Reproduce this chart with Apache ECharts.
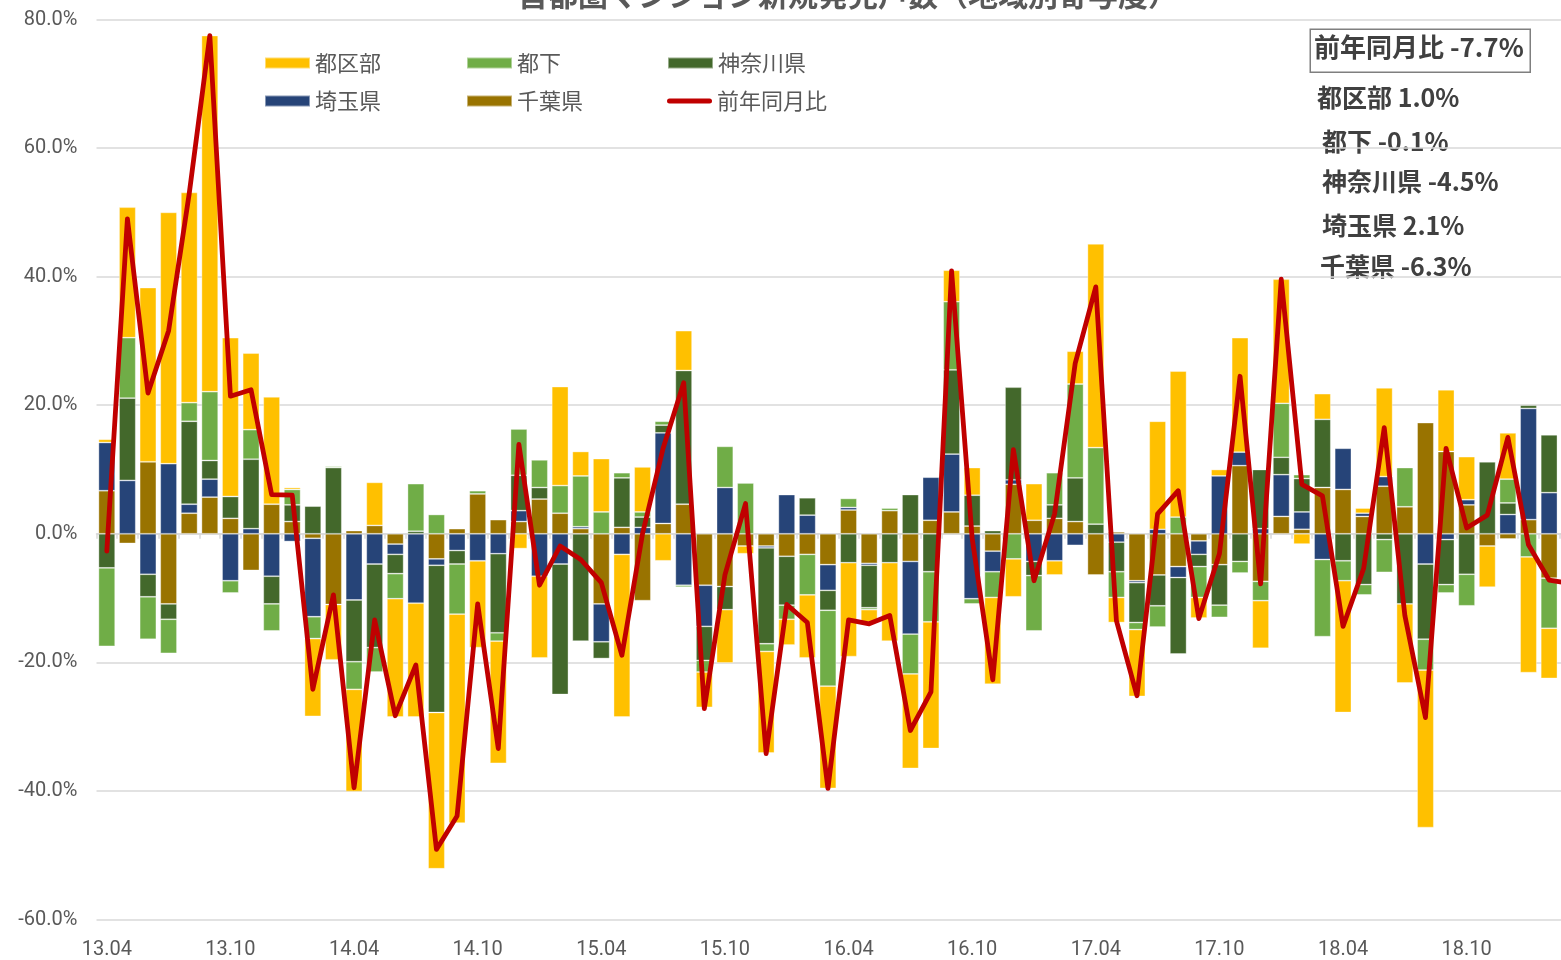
<!DOCTYPE html>
<html>
<head>
<meta charset="utf-8">
<script src="https://cdn.jsdelivr.net/npm/echarts@6/dist/echarts.min.js"></script>
<style>
html,body{margin:0;padding:0;background:#fff;overflow:hidden;}
#chart{width:1580px;height:960px;}
</style>
</head>
<body>
<div id="chart"></div>
<script>
const categories = ['13.04','13.05','13.06','13.07','13.08','13.09','13.10','13.11','13.12',
 '14.01','14.02','14.03','14.04','14.05','14.06','14.07','14.08','14.09','14.10','14.11','14.12',
 '15.01','15.02','15.03','15.04','15.05','15.06','15.07','15.08','15.09','15.10','15.11','15.12',
 '16.01','16.02','16.03','16.04','16.05','16.06','16.07','16.08','16.09','16.10','16.11','16.12',
 '17.01','17.02','17.03','17.04','17.05','17.06','17.07','17.08','17.09','17.10','17.11','17.12',
 '18.01','18.02','18.03','18.04','18.05','18.06','18.07','18.08','18.09','18.10','18.11','18.12',
 '19.01','19.02','19.03'];

// 都区部
const tokubu = [0.5,20.3,27.1,39.1,32.7,55.4,24.7,11.9,16.7,
 0.3,-12.1,-8.6,-15.9,6.7,-18.4,-17.7,-24.3,-32.5,-13.5,-19.0,-2.3,
 -12.7,15.4,3.8,8.3,-25.3,7.0,-4.2,6.2,-5.5,-8.3,-1.2,-15.8,
 -4.0,-9.8,-15.9,-14.6,-1.9,-12.2,-14.7,-19.7,4.9,4.3,-13.5,-5.9,
 5.7,-2.2,5.1,31.7,-3.9,-10.4,16.8,22.7,-3.2,1.0,17.8,-7.4,
 19.3,-1.6,4.0,-20.5,0.8,13.8,-12.3,-24.5,9.6,6.7,-6.4,7.2,
 -18.0,-7.8,1.0];
// 都下
const tokaka = [-12.2,9.4,-6.6,-5.3,2.9,10.7,-1.9,4.6,-4.2,
 2.4,-3.4,0.2,-4.3,-3.8,-3.9,7.4,3.0,-7.8,0.5,-1.3,7.2,
 4.3,4.3,7.9,3.4,0.8,0.8,0.6,-0.3,-1.8,6.4,7.9,-1.2,
 -2.2,-6.3,-11.8,1.4,-0.3,0.4,-6.2,-7.8,10.6,-0.8,-4.0,-3.9,
 -8.6,5.0,14.6,11.9,-4.0,-1.1,-3.3,2.6,-4.8,-1.9,-1.8,-3.0,
 8.4,0.6,-12.0,-3.1,-1.6,-5.1,6.1,-4.8,-1.3,-4.9,0,3.7,
 -3.6,-7.8,-0.1];
// 神奈川県
const kanagawa = [-5.3,12.8,-3.5,-2.4,12.9,2.9,3.4,10.8,-4.3,
 2.6,4.3,10.3,-9.6,-13.0,-3.0,0.4,-22.9,-2.1,0,-12.3,5.5,
 1.8,-20.3,-16.7,-2.6,7.7,1.6,1.2,20.8,-5.3,-3.6,0,-14.9,
 -7.6,2.7,-3.1,-4.5,-6.6,-4.5,6.1,-5.9,13.1,4.8,0.5,14.4,
 -2.2,2.1,6.8,1.5,-4.6,-6.2,-4.8,-11.9,-1.9,-6.3,-4.3,9.2,
 2.7,5.2,10.6,-4.2,-7.9,-0.9,-10.9,-11.7,-7.0,-6.3,11.2,1.8,
 0.5,9.0,-4.5];
// 埼玉県
const saitama = [7.5,8.3,-6.3,10.9,1.4,2.8,-7.3,0.8,-6.6,
 -1.2,-12.2,0,-10.3,-4.7,-1.6,-10.8,-1.0,-2.6,-4.2,-3.1,1.7,
 -6.6,-4.7,0.3,-5.9,-3.2,1.0,14.1,-8.0,-6.4,7.2,0,-0.3,
 6.1,2.9,-4.0,0.4,-0.3,0,-11.3,6.7,9.0,-10.1,-3.2,0.7,
 -4.3,-4.2,-1.8,0,-1.3,-0.3,0.7,-1.7,-2.1,9.0,2.1,0.8,
 6.5,2.7,-4.0,6.4,0.5,1.5,0,-4.7,-0.9,0.8,0,3.0,
 17.3,6.4,2.1];
// 千葉県
const chiba = [6.7,-1.5,11.2,-10.9,3.2,5.7,2.4,-5.7,4.6,
 1.9,-0.7,-11.0,0.5,1.3,-1.6,0,-3.9,0.8,6.2,2.2,1.9,
 5.4,3.2,0.8,-10.9,1.0,-10.4,1.6,4.6,-8.0,-8.2,-1.9,-1.9,
 -3.5,-3.2,-4.8,3.7,-4.6,3.6,-4.3,2.1,3.4,1.2,-2.7,7.7,
 2.1,2.4,1.9,-6.4,0.3,-7.3,-6.4,-5.1,-1.1,-4.8,10.6,-7.4,
 2.7,0.7,7.2,6.9,2.7,7.4,4.2,17.3,12.8,4.5,-1.9,-0.8,
 2.2,-6.9,-6.3];
// 前年同月比
const yoy = [-2.7,49.0,21.9,31.6,52.9,77.5,21.4,22.4,6.1,
 6.0,-24.2,-9.5,-39.5,-13.4,-28.3,-20.4,-49.1,-43.9,-10.9,-33.4,13.9,
 -8.0,-1.9,-4.0,-7.6,-18.9,0.0,13.3,23.5,-27.2,-6.4,4.7,-34.2,
 -11.0,-13.8,-39.6,-13.4,-14.0,-12.7,-30.6,-24.6,40.9,-0.7,-22.7,13.1,
 -7.3,3.1,26.5,38.4,-13.5,-25.2,3.1,6.7,-13.2,-3.1,24.5,-7.8,
 39.6,7.7,5.9,-14.4,-5.4,16.5,-12.7,-28.6,13.3,0.9,2.9,15.0,
 -1.7,-7.2,-7.7];

const titleText = '首都圏マンション新規発売戸数（地域別寄与度）';
const noteBox = '前年同月比 -7.7%';
const noteLines = ['都区部 1.0%','都下 -0.1%','神奈川県 -4.5%','埼玉県 2.1%','千葉県 -6.3%'];
const legendOrder = ['都区部','都下','神奈川県','埼玉県','千葉県','前年同月比'];

const COLORS = {
  '都区部':'#FFC000','都下':'#70AD47','神奈川県':'#43682B','埼玉県':'#264478','千葉県':'#997300','前年同月比':'#C00000'
};

const nz = a => a.map(v => v === 0 ? null : v);
function barSeries(name, data){
  return {
    name, type:'bar', stack:'total', data:nz(data), xAxisIndex:0,
    barCategoryGap:'19%',
    itemStyle:{color:COLORS[name], borderColor:'rgba(255,255,255,0.45)', borderWidth:0.8},
    emphasis:{disabled:true}
  };
}

const chart = echarts.init(document.getElementById('chart'), null, {renderer:'canvas'});
const FONT = "'Noto Sans CJK JP', 'Noto Sans', sans-serif";
const legendText = {color:'#595959', fontSize:22, fontFamily:FONT};

const legendCols = [264, 466, 667];
const legendRows = [52, 90];
const legends = legendOrder.map((name, i) => ({
  left: legendCols[i % 3], top: legendRows[Math.floor(i / 3)], padding:0,
  itemWidth:45, itemHeight:11, textStyle:legendText,
  data:[ name === '前年同月比'
    ? {name, icon:'path://M2.5,0 L42.5,0 A2.5,2.5 0 0 1 42.5,5 L2.5,5 A2.5,2.5 0 0 1 2.5,0 Z'}
    : {name, icon:'rect'} ]
}));

const noteGraphics = noteLines.map((t,i) => ({
  type:'text', left: [1317,1322,1322,1322,1320][i], top: [100,144,184,228,269][i] - 15,
  style:{text:t, font:"bold 25px 'Noto Sans CJK JP'", fill:'#404040'}
}));

chart.setOption({
  animation:false,
  backgroundColor:'#fff',
  grid:{left:96.5, right:0, top:19.5, bottom:40.5, containLabel:false},
  legend:legends,
  xAxis:[
    {type:'category', data:categories, position:'bottom',
     axisLine:{show:false, onZero:false}, axisTick:{show:false},
     axisLabel:{interval:5, color:'#595959', fontSize:20, fontFamily:'Roboto', margin:20},
     splitLine:{show:false}},
    {type:'category', data:categories, position:'bottom',
     axisLine:{show:true, onZero:true, lineStyle:{color:'#D9D9D9', width:1.5}},
     axisTick:{show:true, interval:0, length:5, lineStyle:{color:'#D9D9D9', width:1.5}},
     axisLabel:{show:false}, splitLine:{show:false}}
  ],
  yAxis:{type:'value', min:-60, max:80, interval:20,
    axisLine:{show:false}, axisTick:{show:false},
    axisLabel:{formatter:v => v.toFixed(1)+'%', color:'#595959', fontSize:20, fontFamily:'Roboto', margin:19},
    splitLine:{lineStyle:{color:'#D9D9D9', width:1.5}}},
  series:[
    barSeries('千葉県', chiba),
    barSeries('埼玉県', saitama),
    barSeries('神奈川県', kanagawa),
    barSeries('都下', tokaka),
    barSeries('都区部', tokubu),
    {name:'前年同月比', type:'line', data:yoy, xAxisIndex:0, symbol:'none', showSymbol:false, z:10,
     lineStyle:{color:COLORS['前年同月比'], width:4.8, join:'round', cap:'round'},
     itemStyle:{color:COLORS['前年同月比']}, emphasis:{disabled:true}}
  ],
  graphic:[
    {type:'text', left:518, top:-20, style:{text:titleText, font:"bold 30px 'Noto Sans CJK JP'", fill:'#595959'}},
    {type:'rect', left:1309.5, top:28.5, shape:{width:220, height:43}, style:{fill:'#fff', stroke:'#7F7F7F', lineWidth:1.5}},
    {type:'text', left:1314, top:34, style:{text:noteBox, font:"bold 26px 'Noto Sans CJK JP'", fill:'#404040'}}
  ].concat(noteGraphics)
});
</script>
</body>
</html>
